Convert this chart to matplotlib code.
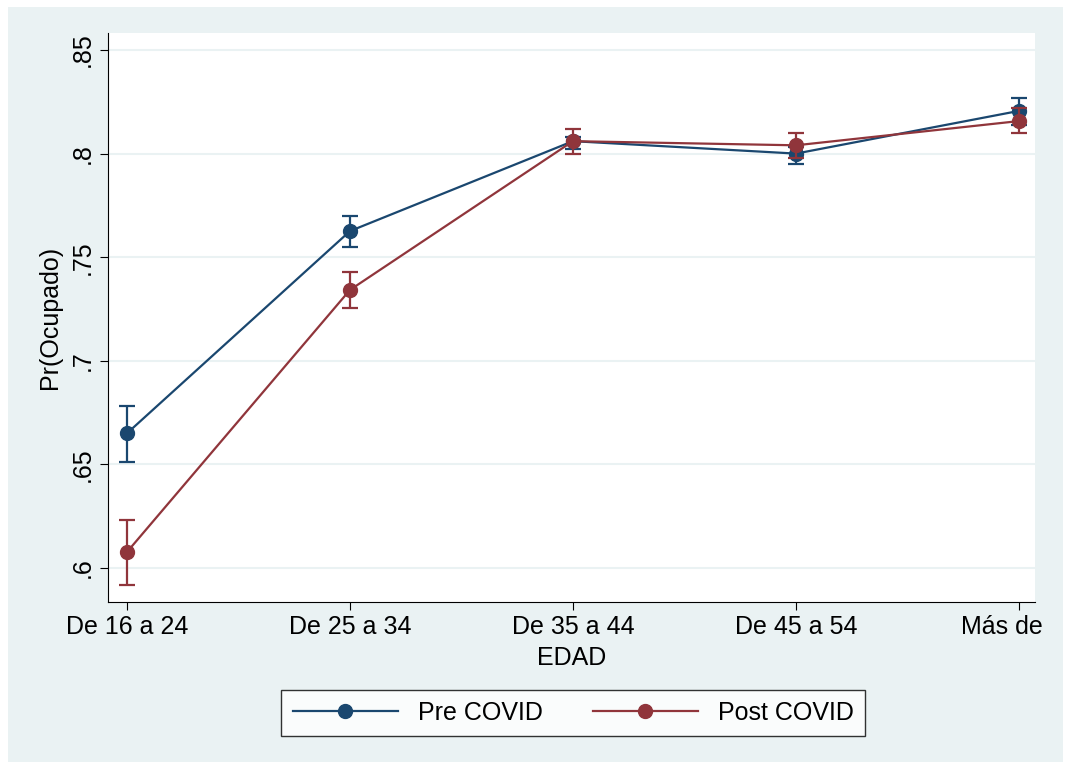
import matplotlib.pyplot as plt
from matplotlib.patches import Rectangle
from matplotlib.transforms import Bbox

plt.rcParams['font.family'] = ['Liberation Sans', 'DejaVu Sans']

categories = ['De 16 a 24', 'De 25 a 34', 'De 35 a 44', 'De 45 a 54', 'Más de 55']
pre = [0.665, 0.7626, 0.806, 0.800, 0.8206]
pre_lo = [0.651, 0.755, 0.802, 0.795, 0.814]
pre_hi = [0.678, 0.770, 0.808, 0.803, 0.827]
post = [0.6077, 0.7342, 0.806, 0.804, 0.8157]
post_lo = [0.592, 0.7255, 0.800, 0.798, 0.810]
post_hi = [0.623, 0.743, 0.812, 0.810, 0.822]
yticks = [0.6, 0.65, 0.7, 0.75, 0.8, 0.85]
ylabels = ['.6', '.65', '.7', '.75', '.8', '.85']

fs = 18
fig = plt.figure(figsize=(10.71, 7.69), dpi=100)
fig.patches.append(Rectangle((8/1071, 7/769), 1055/1071, 755/769, transform=fig.transFigure,
                             facecolor='#eaf2f3', edgecolor='none', zorder=-10))
ax = fig.add_axes([108/1071, 1-602/769, 927/1071, 569/769])
x = list(range(len(categories)))

for vals, lo, hi, col, lab in [(pre, pre_lo, pre_hi, '#1a476f', 'Pre COVID'),
                               (post, post_lo, post_hi, '#90353b', 'Post COVID')]:
    err = [[v - l for v, l in zip(vals, lo)], [h - v for v, h in zip(vals, hi)]]
    ax.errorbar(x, vals, yerr=err, fmt='none', ecolor=col, capsize=6, elinewidth=1.6, capthick=1.6)
    ax.plot(x, vals, '-o', color=col, lw=1.6, ms=10, label=lab)

ax.set_xlim(-0.085, 4.072)
ax.set_ylim(0.5836, 0.8582)
ax.set_yticks(yticks)
ax.set_yticklabels(ylabels, rotation=90, va='center', fontsize=fs)
ax.set_xticks(x)
ax.set_xticklabels(categories, fontsize=fs)
ax.grid(axis='y', color='#eaf2f3', lw=1.5)
ax.set_axisbelow(True)
for s in ['top', 'right']:
    ax.spines[s].set_visible(False)
ax.tick_params(length=6)
ax.set_xlabel('EDAD', fontsize=fs, labelpad=5)
ax.set_ylabel('Pr(Ocupado)', fontsize=fs, labelpad=6)

# reference cuts the last category label at the plot edge
clip = Bbox([[0, 0], [1046, 769]])
for t in ax.get_xticklabels():
    t.set_clip_box(clip)
    t.set_clip_on(True)

leg = fig.legend(loc='center', bbox_to_anchor=(573/1071, 1-713/769), ncol=2, fontsize=fs,
                 frameon=True, fancybox=False, edgecolor='black', handlelength=4.2,
                 columnspacing=2.0, borderpad=0.45, handletextpad=0.8)
leg.get_frame().set_linewidth(1)
fig.savefig('out.png', dpi=100)
